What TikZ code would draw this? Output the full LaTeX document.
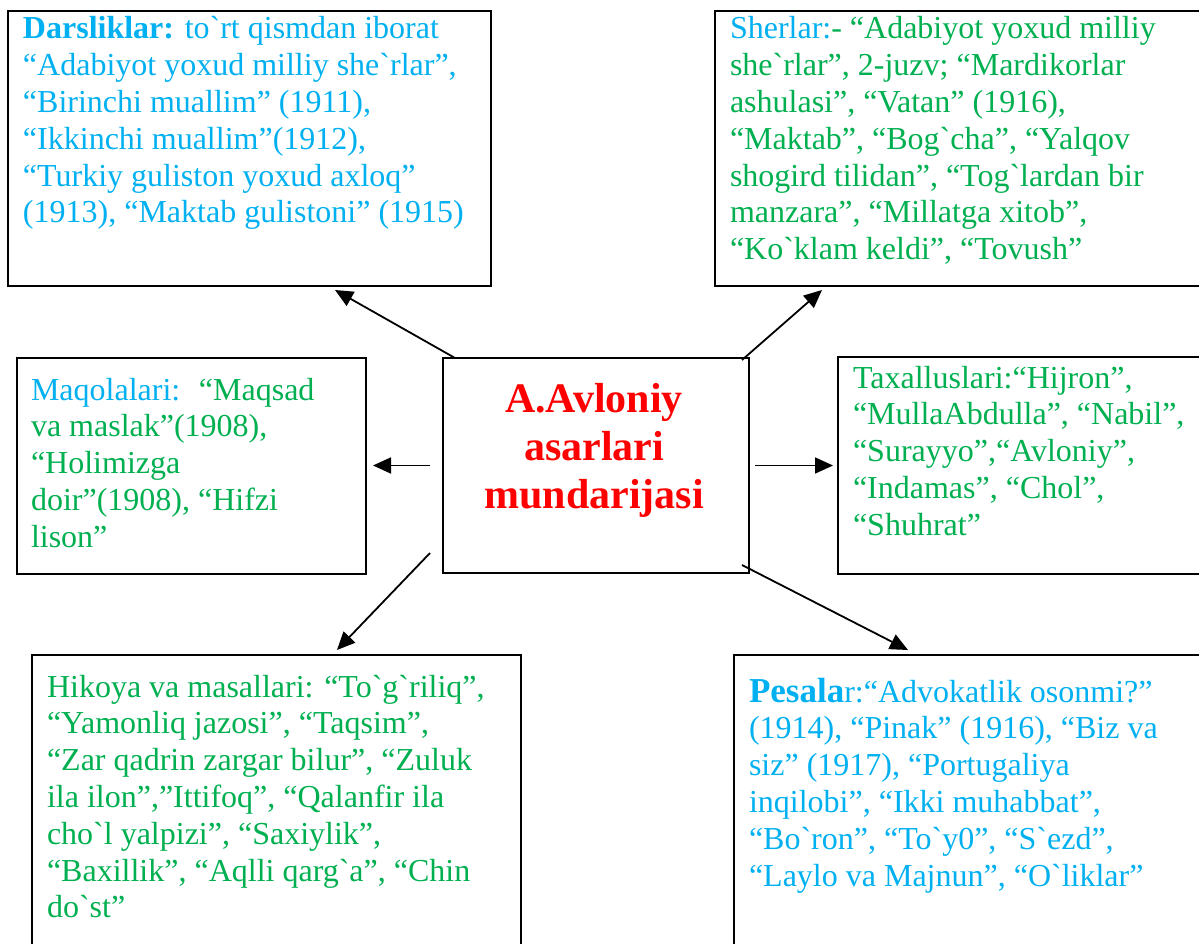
\documentclass[tikz,border=0pt]{standalone}
\usepackage{fontspec}
\setmainfont{Liberation Serif}[Ligatures=TeXOff]
\usetikzlibrary{arrows.meta}
\definecolor{lblue}{HTML}{00B0F0}
\definecolor{lgreen}{HTML}{00B050}
\definecolor{lred}{HTML}{FF0000}
\newcommand{\bodyfont}{\fontsize{32}{36.8}\selectfont}
\tikzset{
  box/.style={draw=black, line width=2pt, rectangle, inner sep=0pt, outer sep=0pt},
  txt/.style={inner sep=0pt, outer sep=0pt, anchor=base west},
  arr/.style={line width=1.8pt, -{Triangle[length=18pt,width=16pt]}},
}
\begin{document}
\begin{tikzpicture}[x=1pt,y=-1pt]
\useasboundingbox (0,0) rectangle (1199,944);
% boxes
\node[box, minimum width=483pt, minimum height=275pt] (bD) at (249.5,148.5) {};
\node[box, minimum width=487pt, minimum height=275pt] (bS) at (958.5,148.5) {};
\node[box, minimum width=349pt, minimum height=216pt] (bM) at (191.5,466) {};
\node[box, minimum width=306pt, minimum height=215pt] (c) at (596,465.5) {};
\node[box, minimum width=364pt, minimum height=217pt] (bT) at (1020,465.5) {};
\node[box, minimum width=489pt, minimum height=295pt] (bH) at (276.5,802.5) {};
\node[box, minimum width=468pt, minimum height=295pt] (bP) at (968,802.5) {};
% texts
\node[txt] (tD) at (23,39) {\parbox[t]{470pt}{\bodyfont\raggedright\leavevmode\color{lblue}%
\textbf{Darsliklar:} to`rt qismdan iborat\\
“Adabiyot yoxud milliy she`rlar”,\\
“Birinchi muallim” (1911),\\
“Ikkinchi muallim”(1912),\\
“Turkiy guliston yoxud axloq”\\
(1913), “Maktab gulistoni” (1915)}};
\node[txt] (tS) at (730,39) {\parbox[t]{470pt}{\bodyfont\raggedright\leavevmode\color{lgreen}%
{\color{lblue}Sherlar:}- “Adabiyot yoxud milliy\\
she`rlar”, 2-juzv; “Mardikorlar\\
ashulasi”, “Vatan” (1916),\\
“Maktab”, “Bog`cha”, “Yalqov\\
shogird tilidan”, “Tog`lardan bir\\
manzara”, “Millatga xitob”,\\
“Ko`klam keldi”, “Tovush”}};
\node[txt] (tM) at (31,400) {\parbox[t]{330pt}{\bodyfont\raggedright\leavevmode\color{lgreen}%
{\color{lblue}Maqolalari:}~ “Maqsad\\
va maslak”(1908),\\
“Holimizga\\
doir”(1908), “Hifzi\\
lison”}};
\node[anchor=base, inner sep=0pt, outer sep=0pt] (tC) at (594,412) {\parbox[t]{300pt}{\fontsize{42}{48}\selectfont\centering\leavevmode\bfseries\color{lred}%
A.Avloniy\\
asarlari\\
mundarijasi}};
\node[txt] (tT) at (853,388) {\parbox[t]{340pt}{\bodyfont\raggedright\leavevmode\color{lgreen}%
Taxalluslari:“Hijron”,\\
“MullaAbdulla”, “Nabil”,\\
“Surayyo”,“Avloniy”,\\
“Indamas”, “Chol”,\\
“Shuhrat”}};
\node[txt] (tH) at (47,697) {\parbox[t]{470pt}{\bodyfont\raggedright\leavevmode\color{lgreen}%
Hikoya va masallari: “To`g`riliq”,\\
“Yamonliq jazosi”, “Taqsim”,\\
“Zar qadrin zargar bilur”, “Zuluk\\
ila ilon”,”Ittifoq”, “Qalanfir ila\\
cho`l yalpizi”, “Saxiylik”,\\
“Baxillik”, “Aqlli qarg`a”, “Chin\\
do`st”}};
\node[txt] (tP) at (749,702) {\parbox[t]{445pt}{\bodyfont\raggedright\leavevmode\color{lblue}%
{\fontsize{35}{36.8}\selectfont\bfseries Pesala}r:“Advokatlik osonmi?”\\
(1914), “Pinak” (1916), “Biz va\\
siz” (1917), “Portugaliya\\
inqilobi”, “Ikki muhabbat”,\\
“Bo`ron”, “To`y0”, “S`ezd”,\\
“Laylo va Majnun”, “O`liklar”}};
% connectors
\draw[arr] ([xshift=12pt]c.north west) -- ([xshift=85.5pt,yshift=-4pt]bD.south);
\draw[arr] ([xshift=-7pt,yshift=-2pt]c.north east) -- ([xshift=-136.5pt,yshift=-4pt]bS.south);
\draw[arr] ([xshift=-13pt]c.west) -- ([xshift=7pt,yshift=0.5pt]bM.east);
\draw[arr] ([xshift=6pt]c.east) -- ([xshift=-5pt]bT.west);
\draw[arr] ([xshift=-13pt,yshift=20pt]c.south west) -- ([xshift=60.5pt,yshift=5pt]bH.north);
\draw[arr] ([xshift=-7pt,yshift=8pt]c.south east) -- ([xshift=-60pt,yshift=5pt]bP.north);
\end{tikzpicture}
\end{document}
